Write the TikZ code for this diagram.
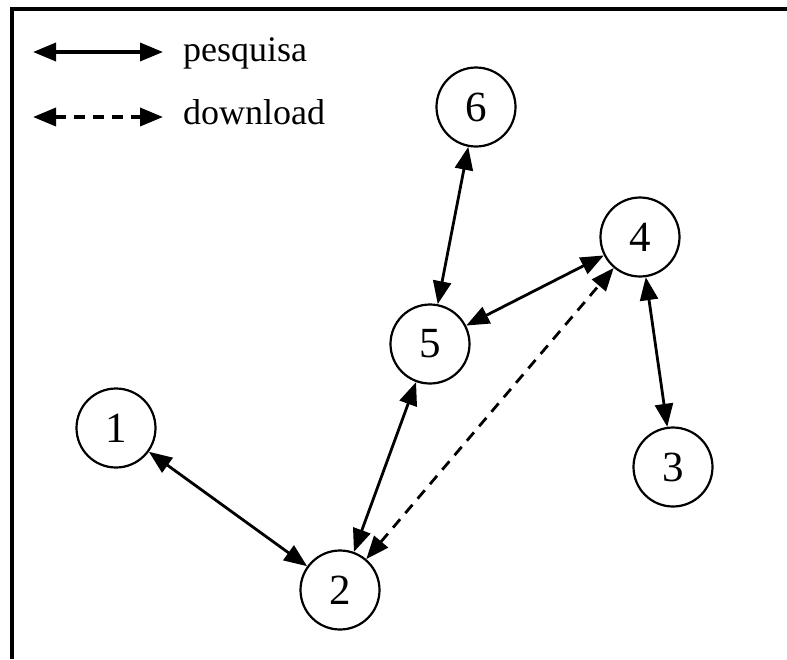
\documentclass[tikz,border=0pt]{standalone}
\usepackage{fontspec}
\setmainfont{Liberation Serif}
\usetikzlibrary{arrows.meta}
\begin{document}
\begin{tikzpicture}[x=1pt,y=-1pt,
  peer/.style={circle,draw,line width=2.2pt,minimum size=79pt,inner sep=0pt,
    font=\fontsize{43}{43}\selectfont},
  tip/.tip={Triangle[length=23pt,width=18pt]},
  link/.style={line width=2.8pt,tip-tip},
  dl/.style={link,dash pattern=on 11pt off 8pt},
  key/.style={line width=3.6pt},
  legendtext/.style={anchor=base west,inner sep=0pt,
    font=\fontsize{36}{36}\selectfont}]
  \useasboundingbox (0,0) rectangle (787,659);

  % open frame: top and left sides only
  \draw[line width=4pt] (11.5,659) -- (11.5,9) -- (787,9);

  % legend
  \coordinate (ls1) at (33,52);
  \coordinate (le1) at (163,52);
  \coordinate (ls2) at (33,117);
  \coordinate (le2) at (163,117);
  \draw[link,key] (ls1) -- (le1);
  \draw[dl,key] (ls2) -- (le2);
  \node[legendtext] (lt1) at (183,61) {pesquisa};
  \node[legendtext] (lt2) at (183,124) {download};

  % peers
  \node[peer] (n1) at (116,428) {1};
  \node[peer] (n2) at (340,590) {2};
  \node[peer] (n3) at (673,467) {3};
  \node[peer] (n4) at (640,237) {4};
  \node[peer] (n5) at (430,344) {5};
  \node[peer] (n6) at (476,107) {6};

  % search links
  \draw[link] (n1) -- (n2);
  \draw[link] (n2) -- (n5);
  \draw[link] (n5) -- (n6);
  \draw[link] (n5) -- (n4);
  \draw[link] (n4) -- (n3);
  % download link
  \draw[dl] (n2) -- (n4);
\end{tikzpicture}
\end{document}
